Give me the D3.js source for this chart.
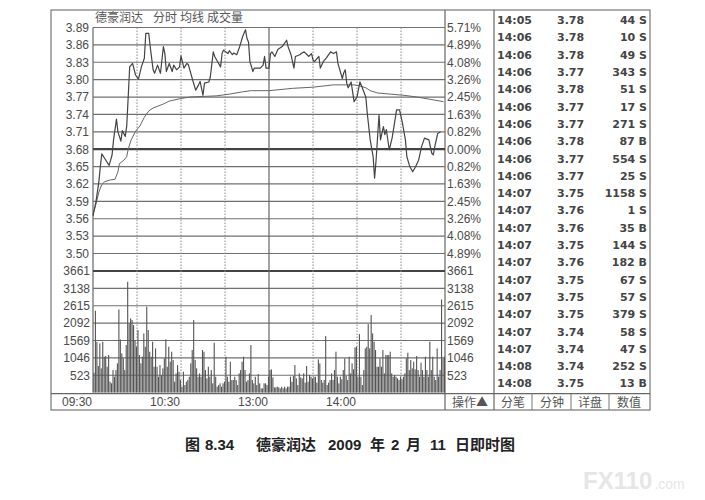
<!DOCTYPE html>
<html><head><meta charset="utf-8">
<script src="https://cdn.jsdelivr.net/npm/d3@7"></script>
<style>body{margin:0;background:#fff}</style>
</head><body><svg id="c" width="705" height="500"></svg>
<script>
// ---------- data ----------
const priceTicks = [3.89,3.86,3.83,3.80,3.77,3.74,3.71,3.68,3.65,3.62,3.59,3.56,3.53,3.50];
const pctLabels = ["5.71%","4.89%","4.08%","3.26%","2.45%","1.63%","0.82%","0.00%","0.82%","1.63%","2.45%","3.26%","4.08%","4.89%"];
const prevClose = 3.68;
const volTicks = [3661,3138,2615,2092,1569,1046,523];
const volMax = 3661;
const timeLabels = ["09:30","10:30","13:00","14:00"];
const timeLabelMinutes = [0,60,120,180];
const gridMinutes = [30,60,90,120,150,180,210];
const solidMinutes = [120];

const priceMinutes = [0,2,4,5,6,8,11,13,14,16,17,19,20,22,23,24,25,27,29,31,33,35,36,38,39,41,42,44,46,48,49,50,52,54,55,57,59,60,62,64,65,68,70,72,73,75,76,79,80,82,83,85,87,88,89,92,93,95,96,98,100,102,104,105,106,107,109,110,114,116,117,118,120,121,122,124,126,129,132,133,135,137,138,141,142,144,146,147,149,150,151,154,155,157,159,162,164,166,167,170,171,172,173,174,176,178,180,182,183,186,187,189,191,192,193,195,196,198,199,200,202,204,207,209,211,213,214,216,218,220,222,224,226,229,231,232,233,235,237];
const priceValues = [3.565,3.589,3.624,3.65,3.672,3.664,3.652,3.67,3.696,3.732,3.71,3.694,3.712,3.702,3.72,3.77,3.822,3.828,3.808,3.801,3.822,3.837,3.88,3.88,3.857,3.817,3.811,3.825,3.811,3.857,3.845,3.814,3.828,3.814,3.825,3.817,3.822,3.841,3.82,3.828,3.826,3.799,3.782,3.791,3.797,3.773,3.794,3.796,3.805,3.848,3.84,3.831,3.822,3.845,3.851,3.845,3.85,3.843,3.846,3.843,3.857,3.874,3.886,3.871,3.865,3.831,3.814,3.82,3.82,3.825,3.84,3.82,3.82,3.845,3.848,3.84,3.852,3.857,3.868,3.857,3.843,3.82,3.84,3.843,3.845,3.848,3.843,3.84,3.845,3.834,3.831,3.84,3.82,3.831,3.837,3.848,3.845,3.848,3.828,3.802,3.812,3.817,3.794,3.786,3.796,3.762,3.77,3.796,3.79,3.77,3.742,3.696,3.667,3.63,3.661,3.739,3.696,3.719,3.705,3.714,3.679,3.70,3.748,3.748,3.725,3.696,3.667,3.65,3.641,3.65,3.661,3.684,3.699,3.696,3.673,3.67,3.684,3.707,3.71];

const avgMinutes = [0,2,4,6,8,12,15,17,18,21,23,24,26,29,32,35,38,41,48,52,59,66,75,84,93,102,108,120,136,150,164,178,182,186,189,194,203,212,221,230,239];
const avgValues = [3.568,3.585,3.606,3.619,3.624,3.627,3.628,3.641,3.655,3.661,3.667,3.68,3.696,3.711,3.72,3.735,3.746,3.751,3.758,3.763,3.767,3.77,3.771,3.772,3.775,3.779,3.781,3.781,3.785,3.787,3.791,3.791,3.789,3.786,3.781,3.777,3.775,3.773,3.77,3.766,3.762];

const volumes = [
 600,2464,1532,800,1481,729,1532,1080,1100,779,
 1130,328,278,679,478,679,880,2504,1602,1180,
 1030,679,1431,3337,2083,2234,2184,2033,1582,1381,
 1883,1130,880,1080,1782,1381,2585,1883,1231,1080,
 1532,779,1331,779,478,829,529,729,1030,1602,
 779,1381,930,1231,980,328,579,829,629,378,
 178,629,228,328,378,478,880,1281,2184,980,
 729,478,579,478,1281,1231,679,428,779,478,
 679,278,1501,478,178,228,278,178,278,328,
 1080,478,328,930,378,378,478,378,228,579,
 679,930,1080,679,328,378,579,1431,378,278,
 478,228,559,278,127,127,278,278,228,478,
 679,699,458,157,157,178,157,127,178,127,
 178,127,178,178,478,328,498,829,428,228,
 579,458,428,579,300,799,328,529,478,428,
 478,478,300,1000,880,378,300,378,1702,228,
 300,378,579,378,679,1231,478,278,478,400,
 679,1030,498,378,1080,579,880,700,1361,1381,
 478,1762,478,228,679,1331,1381,2063,1331,2334,
 1782,1531,1281,779,779,1030,779,1281,579,1130,
 1130,1130,1231,579,478,529,478,428,378,478,
 400,478,579,1030,1200,679,980,729,930,700,
 1100,679,478,900,679,478,1080,679,478,1532,
 679,1080,478,378,1331,478,679,2805,1030,1080];

const tradeTimes = ["14:05","14:06","14:06","14:06","14:06","14:06","14:06","14:06","14:06","14:06","14:07","14:07","14:07","14:07","14:07","14:07","14:07","14:07","14:07","14:07","14:08","14:08"];
const tradePrices = [3.78,3.78,3.78,3.77,3.78,3.77,3.77,3.78,3.77,3.77,3.75,3.76,3.76,3.75,3.76,3.75,3.75,3.75,3.74,3.74,3.74,3.75];
const tradeVols = [44,10,49,343,51,17,271,87,554,25,1158,1,35,144,182,67,57,379,58,47,252,13];
const tradeSides = ["S","S","S","S","S","S","S","B","S","S","S","S","B","S","B","S","S","S","S","S","S","B"];

const titleParts = ["德豪润达","分时","均线","成交量"];
const tabLabels = ["分笔","分钟","详盘","数值"];
const opLabel = "操作▲";

// ---------- layout ----------
const svg = d3.select("#c");
const L = 93, R = 445, T = 27.5, PB = 253.5, VT = 271, VB = 392.6;
const frameL = 51, frameT = 10, frameR = 650, frameB = 410, tblL = 494;
const grid = "#707070", ink = "#4a4a4a";
const latin = "'Liberation Sans', Arial, sans-serif";
const cjk = "'Noto Sans CJK SC', sans-serif";

const x = d3.scaleLinear().domain([0,240]).range([L,R]);
const yP = d3.scaleLinear().domain([3.50,3.89]).range([PB,T]);
const yV = d3.scaleLinear().domain([0,volMax]).range([VB,VT]);

// frame
svg.append("rect").attr("x",frameL).attr("y",frameT).attr("width",frameR-frameL).attr("height",frameB-frameT)
  .attr("fill","none").attr("stroke","#777").attr("stroke-width",1.2);
function vline(xx,y1,y2,w,c){svg.append("line").attr("x1",xx).attr("x2",xx).attr("y1",y1).attr("y2",y2).attr("stroke",c||grid).attr("stroke-width",w||1.2);}
function hline(yy,x1,x2,w,c){svg.append("line").attr("x1",x1).attr("x2",x2).attr("y1",yy).attr("y2",yy).attr("stroke",c||grid).attr("stroke-width",w||1.2);}
vline(L,T,VB,1.2,"#666");
vline(R,frameT,frameB,1.2,"#666");
vline(tblL,frameT,frameB,1.2,"#666");
hline(VB+1,frameL,frameR,1.2,"#666");

// horizontal grid
priceTicks.forEach(p=>{
  const isPrev = Math.abs(p-prevClose)<1e-6;
  hline(yP(p),L,R,isPrev?2.2:1.2,isPrev?"#444":grid);
});
volTicks.forEach(v=>{
  const isTop = v===volMax;
  hline(yV(v),L,R,isTop?2.2:1.2,isTop?"#444":grid);
});

// vertical grid
gridMinutes.forEach(m=>{
  const solid = solidMinutes.includes(m);
  svg.append("line").attr("x1",x(m)).attr("x2",x(m)).attr("y1",T).attr("y2",VB)
    .attr("stroke",solid?"#666":"#888").attr("stroke-width",solid?1.2:1)
    .attr("stroke-dasharray",solid?null:"1.5,1.5");
});

// axes labels
function styleAxis(g){g.select(".domain").remove();g.selectAll("line").remove();
  g.selectAll("text").attr("font-family",latin).attr("font-size",12).attr("fill",ink);}
svg.append("g").attr("transform",`translate(${L},0)`)
  .call(d3.axisLeft(yP).tickValues(priceTicks).tickSize(0).tickPadding(4).tickFormat(d3.format(".2f"))).call(styleAxis);
svg.append("g").attr("transform",`translate(${R},0)`)
  .call(d3.axisRight(yP).tickValues(priceTicks).tickSize(0).tickPadding(2).tickFormat((d,i)=>pctLabels[i])).call(styleAxis);
svg.append("g").attr("transform",`translate(${L},0)`)
  .call(d3.axisLeft(yV).tickValues(volTicks).tickSize(0).tickPadding(3).tickFormat(d3.format("d"))).call(styleAxis);
svg.append("g").attr("transform",`translate(${R},0)`)
  .call(d3.axisRight(yV).tickValues(volTicks).tickSize(0).tickPadding(2).tickFormat(d3.format("d"))).call(styleAxis);

// time labels
svg.selectAll(".tl").data(timeLabels).join("text")
  .attr("x",(d,i)=>x(timeLabelMinutes[i])-1).attr("y",402).attr("dy","0.35em")
  .attr("text-anchor","end").attr("font-family",latin).attr("font-size",12).attr("fill",ink).text(d=>d);

// volume bars
svg.append("g").selectAll("rect").data(volumes).join("rect")
  .attr("x",(d,i)=>x(i)+0.4).attr("width",1.1)
  .attr("y",d=>yV(d)).attr("height",d=>VB-yV(d)).attr("fill","#555");

// average line
svg.append("path").datum(avgMinutes.map((m,i)=>[m,avgValues[i]]))
  .attr("d",d3.line().x(d=>x(d[0])).y(d=>yP(d[1])))
  .attr("fill","none").attr("stroke","#666").attr("stroke-width",1);
// price line
svg.append("path").datum(priceMinutes.map((m,i)=>[m,priceValues[i]]))
  .attr("d",d3.line().x(d=>x(d[0])).y(d=>yP(d[1])))
  .attr("fill","none").attr("stroke","#444").attr("stroke-width",1.2).attr("stroke-linejoin","round");

// title
const titleX = [95,153,180,207];
svg.selectAll(".tt").data(titleParts).join("text")
  .attr("x",(d,i)=>titleX[i]).attr("y",18).attr("dy","0.35em")
  .attr("font-family",cjk).attr("font-size",12).attr("fill","#555").text(d=>d);

// trade table
const rowY = i => 20 + 17.3*i;
const tf = "'DejaVu Sans', sans-serif";
const tbl = svg.append("g").attr("font-family",tf).attr("font-size",11).attr("font-weight","bold").attr("fill","#444");
tbl.selectAll(".t1").data(tradeTimes).join("text").attr("x",497).attr("y",(d,i)=>rowY(i)).attr("dy","0.38em").text(d=>d);
tbl.selectAll(".t2").data(tradePrices).join("text").attr("x",557).attr("y",(d,i)=>rowY(i)).attr("dy","0.38em").text(d=>d.toFixed(2));
tbl.selectAll(".t3").data(tradeVols).join("text").attr("x",647).attr("y",(d,i)=>rowY(i)).attr("dy","0.38em")
  .attr("text-anchor","end").text((d,i)=>d+" "+tradeSides[i]);

// tabs
const tabSep = [532,571,609];
tabSep.forEach(s=>vline(s,VB+1,frameB,1,"#777"));
const tabCx = [513,552,590,629];
svg.selectAll(".tab").data(tabLabels).join("text").attr("x",(d,i)=>tabCx[i]).attr("y",403).attr("dy","0.35em")
  .attr("text-anchor","middle").attr("font-family",cjk).attr("font-size",12).attr("fill","#555").text(d=>d);
svg.append("text").attr("x",470).attr("y",403).attr("dy","0.35em").attr("text-anchor","middle")
  .attr("font-family",cjk).attr("font-size",12).attr("fill","#555").text(opLabel);

// caption
const capParts = [["图",185],["8.34",205],["德豪润达",256],["2009",328],["年",370],["2",391],["月",406],["11",430],["日即时图",455]];
svg.selectAll(".cap").data(capParts).join("text").attr("x",d=>d[1]).attr("y",445).attr("dy","0.35em")
  .attr("font-family","'Liberation Sans','Noto Sans CJK SC',sans-serif").attr("font-weight","bold")
  .attr("font-size",15).attr("fill","#222").text(d=>d[0]);

// watermark
const wm = svg.append("text").attr("x",583).attr("y",489).attr("font-family",latin).attr("font-weight","bold")
  .attr("font-size",24).attr("fill","#e6e6e6").text("FX110");
const wmEnd = 583 + wm.node().getComputedTextLength();
svg.append("text").attr("x",wmEnd+2).attr("y",489).attr("font-family",latin)
  .attr("font-size",14).attr("fill","#e6e6e6").text(".com");
</script></body></html>
